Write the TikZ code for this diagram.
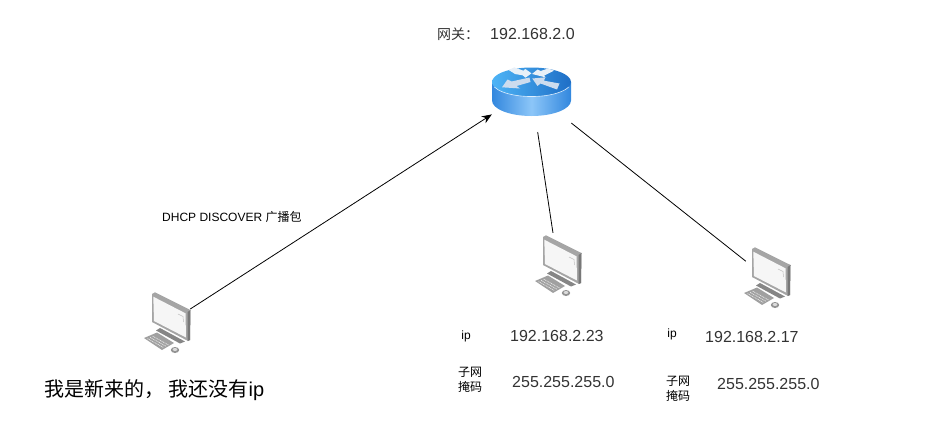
\documentclass[tikz,border=0pt]{standalone}
\usepackage{fontspec}
\setmainfont{Liberation Sans}
\newfontfamily\cjk{Noto Sans CJK SC}
\usepackage{xcolor}
\usetikzlibrary{arrows.meta,positioning}
\definecolor{txgray}{RGB}{51,51,51}
\definecolor{rtlight}{RGB}{78,180,246}
\definecolor{rtdark}{RGB}{30,110,198}
\definecolor{rtside}{RGB}{50,135,222}
\definecolor{rtband}{RGB}{140,198,248}
\definecolor{rtarrow}{RGB}{232,240,248}
\definecolor{rtarrowlow}{RGB}{205,220,238}
\definecolor{pcframe}{RGB}{165,165,165}
\definecolor{pcdark}{RGB}{120,120,120}
\definecolor{pcscreen}{RGB}{246,246,246}
\tikzset{
  link/.style={draw=black, line width=0.8pt},
  spot/.style={rectangle, inner sep=0pt, minimum width=#1},
  bigtext/.style={font=\fontsize{16}{18}\selectfont, text=txgray, inner sep=0pt},
  midtext/.style={font=\fontsize{14}{16}\selectfont\cjk, text=txgray, inner sep=0pt},
  smalltext/.style={font=\fontsize{12}{14}\selectfont, text=black, inner sep=0pt, align=center},
  masktext/.style={font=\fontsize{12}{15}\selectfont\cjk, text=black, inner sep=0pt, align=center},
  pcicon/.pic={
    % monitor
    \fill[pcframe] (-15,-29) -- (-12,-30.7) -- (23.5,-13) -- (23,17) -- (21,18) -- (-15,-1) -- cycle;
    \fill[pcdark] (20.5,-11) -- (23.5,-13) -- (23,17) -- (20.5,18) -- cycle;
    \fill[pcscreen] (-13.7,-26.3) -- (18.5,-9.7) -- (19,14.5) -- (-13,-2) -- cycle;
    \draw[pcframe!70, line width=0.5pt] (11,-9) -- (16,-6.5) -- (16.5,-1);
    % stand
    \fill[pcdark!90] (-11,7.5) -- (-7,5) -- (18,18.5) -- (13,20.5) -- cycle;
    % keyboard
    \fill[pcdark!70] (-23,15) -- (-10,9.5) -- (7,20) -- (-5,27) -- cycle;
    \foreach \keyrow in {0,1,2}
      \draw[white!75!pcframe, line width=0.7pt, dash pattern=on 1pt off 0.7pt]
        (-19.5+\keyrow*2.6,15.6+\keyrow*-1.2) -- (-3.5+\keyrow*2.6,24.5+\keyrow*-1.2);
    % mouse
    \fill[pcdark!80] (8,27) ellipse (4.2 and 3);
    \fill[white!60!pcframe] (8,26.5) ellipse (2.4 and 1.5);
  },
  routericon/.pic={
    % body
    \shade[left color=rtside, right color=rtside, middle color=rtband]
      (-39.5,-9.5) -- (-39.5,9) arc[start angle=180, end angle=0, x radius=39.5, y radius=15.5]
      -- (39.5,-9.5) -- cycle;
    % top
    \shade[left color=rtlight, right color=rtdark] (0,-9.5) ellipse (39.5 and 14.5);
    \draw[white!70!rtband, line width=0.6pt] (-37.1,-4.5) arc[start angle=160, end angle=20, x radius=39.5, y radius=14.5];
    % arrows
    \fill[rtarrow] (-22.8,-21.5) -- (-17.2,-24.2) -- (-8.2,-20.8) -- (-6.2,-22.5) -- (0,-18.2) -- (-6,-13.8) -- (-8.8,-16.2) -- (-16.5,-17.5) -- cycle;
    \fill[rtarrowlow] (-29.5,-4.2) -- (-24,-12) -- (-20,-10) -- (-2,-14) -- (-1,-9.5) -- (-15,-5.5) -- (-11.5,-3) -- cycle;
    \fill[rtarrow] (0.5,-17.5) -- (6,-22) -- (9,-20.5) -- (16.8,-23) -- (22.5,-20.8) -- (12.5,-15.8) -- (14.5,-14) -- cycle;
    \fill[rtarrowlow] (0.8,-13) -- (13.8,-14.2) -- (12.5,-10.8) -- (28,-8) -- (25.5,-2) -- (9,-8) -- (6,-5.5) -- cycle;
  }
}

\begin{document}
\begin{tikzpicture}[x=1pt,y=-1pt]
\useasboundingbox (0,0) rectangle (944,428);

% Router
\pic at (531.5,91.5) {routericon};
\node[spot=79pt, minimum height=49pt] (router) at (531.5,91.5) {};
\node[midtext, anchor=west] (gwname) at (437,34) {网关：};
\node[bigtext, anchor=west] (gwip) at (490,34) {192.168.2.0};

% Computers
\pic at (167,323) {pcicon};
\pic at (558,266) {pcicon};
\pic at (767,278) {pcicon};
\node[spot=46pt, minimum height=62pt] (pcnew) at (167,323) {};
\node[spot=42pt, minimum height=62pt] (pcleft) at (558,266) {};
\node[spot=42pt, minimum height=62pt] (pcright) at (767,278) {};

% Labels
\node[smalltext, anchor=west] (dhcp) at (162,217) {DHCP DISCOVER {\cjk 广播包}};
\node[anchor=west, inner sep=0pt, text=black, font=\fontsize{20}{22}\selectfont] (newtext) at (44,390) {{\cjk 我是新来的， 我还没有}ip};

\node[smalltext] (ipa) at (466,336) {ip};
\node[bigtext, anchor=west] (ipaval) at (510,336) {192.168.2.23};
\node[masktext] (maska) at (470,380) {子网\\掩码};
\node[bigtext, anchor=west] (maskaval) at (512,382) {255.255.255.0};

\node[smalltext] (ipb) at (672,334) {ip};
\node[bigtext, anchor=west] (ipbval) at (705,337) {192.168.2.17};
\node[masktext] (maskb) at (678,389) {子网\\掩码};
\node[bigtext, anchor=west] (maskbval) at (717,384) {255.255.255.0};

% Connections
\draw[link, -{Stealth[length=10pt,width=8pt]}] (pcnew.31) -- (router.210.7);
\draw[link, shorten <=16pt, shorten >=2pt] (router) -- (pcleft);
\draw[link, shorten <=11pt] (router) -- (pcright);
\end{tikzpicture}
\end{document}
